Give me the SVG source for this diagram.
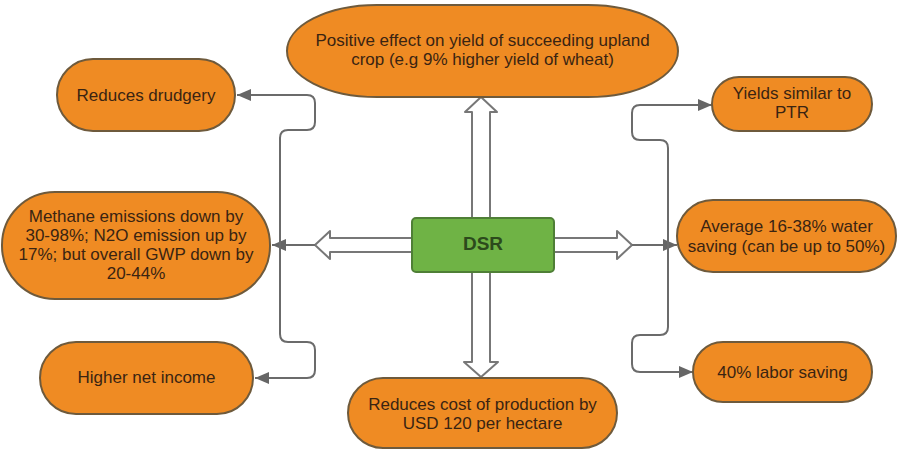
<svg xmlns="http://www.w3.org/2000/svg" width="905" height="450" viewBox="0 0 905 450">
<defs>
<style>
.node{fill:#ef8b23;stroke:#6e5a3c;stroke-width:2}
.t{font-family:"Liberation Sans",Arial,sans-serif;font-size:17px;fill:#3a2412;text-anchor:middle}
.dsr{fill:#6fb345;stroke:#4f7f36;stroke-width:2}
.dt{font-family:"Liberation Sans",Arial,sans-serif;font-size:19px;font-weight:bold;fill:#2c4a1c;text-anchor:middle}
.hollow{fill:#ffffff;stroke:#777777;stroke-width:2;stroke-linejoin:round}
.conn{fill:none;stroke:#6b6b6b;stroke-width:2;marker-end:url(#ah)}
</style>
<marker id="ah" markerUnits="userSpaceOnUse" markerWidth="16" markerHeight="12" refX="14" refY="6" orient="auto">
<path d="M0,0 L14,6 L0,12 Z" fill="#666666"/>
</marker>
</defs>
<rect width="905" height="450" fill="#ffffff"/>

<g id="connectors">
<path class="hollow" d="M472,218 V112 H465 L481,97 L497,112 H490 V218"/>
<path class="hollow" d="M472,272 V362 H464 L481,377 L498,362 H490 V272"/>
<path class="hollow" d="M412,238 H330 V231 L315,245 L330,259 V252 H412"/>
<path class="hollow" d="M554,238 H617 V231 L632,245 L617,259 V252 H554"/>
<path class="conn" d="M315,245 H272"/>
<path class="conn" d="M632,245 H677"/>
<path class="conn" d="M280,245 V138 q0,-8 8,-8 H307 q8,0 8,-8 V103 q0,-8 -8,-8 H237"/>
<path class="conn" d="M280,245 V334 q0,8 8,8 H307 q8,0 8,8 V370 q0,8 -8,8 H255"/>
<path class="conn" d="M668,245 V148 q0,-8 -8,-8 H640 q-8,0 -8,-8 V113 q0,-8 8,-8 H712"/>
<path class="conn" d="M668,245 V327 q0,8 -8,8 H640 q-8,0 -8,8 V364 q0,8 8,8 H693"/>
</g>

<g id="dsr">
<rect class="dsr" x="412" y="218" width="142" height="54" rx="4"/>
<text class="dt" x="483" y="250">DSR</text>
</g>

<g id="top">
<rect class="node" x="287" y="5" width="391" height="92" rx="90" ry="46"/>
<text class="t" x="482.5" y="46">Positive effect on yield of succeeding upland</text>
<text class="t" x="482.5" y="65">crop (e.g 9% higher yield of wheat)</text>
</g>

<g id="drudgery">
<rect class="node" x="57" y="59" width="178" height="72" rx="36"/>
<text class="t" x="146" y="101">Reduces drudgery</text>
</g>

<g id="methane">
<rect class="node" x="2" y="192" width="268" height="107" rx="53"/>
<text class="t" x="136" y="222">Methane emissions down by</text>
<text class="t" x="136" y="241">30-98%; N2O emission up by</text>
<text class="t" x="136" y="260">17%; but overall GWP down by</text>
<text class="t" x="136" y="279">20-44%</text>
</g>

<g id="income">
<rect class="node" x="40" y="342" width="213" height="72" rx="36"/>
<text class="t" x="146.5" y="383">Higher net income</text>
</g>

<g id="cost">
<rect class="node" x="348" y="378" width="269" height="70" rx="35"/>
<text class="t" x="482.5" y="410">Reduces cost of production by</text>
<text class="t" x="482.5" y="429">USD 120 per hectare</text>
</g>

<g id="yields">
<rect class="node" x="712" y="77" width="160" height="54" rx="27"/>
<text class="t" x="792" y="99">Yields similar to</text>
<text class="t" x="792" y="118">PTR</text>
</g>

<g id="water">
<rect class="node" x="677" y="200" width="219" height="72" rx="36"/>
<text class="t" x="786.5" y="232">Average 16-38% water</text>
<text class="t" x="786.5" y="252">saving (can be up to 50%)</text>
</g>

<g id="labor">
<rect class="node" x="693" y="342" width="179" height="60" rx="30"/>
<text class="t" x="782.5" y="378">40% labor saving</text>
</g>
</svg>
